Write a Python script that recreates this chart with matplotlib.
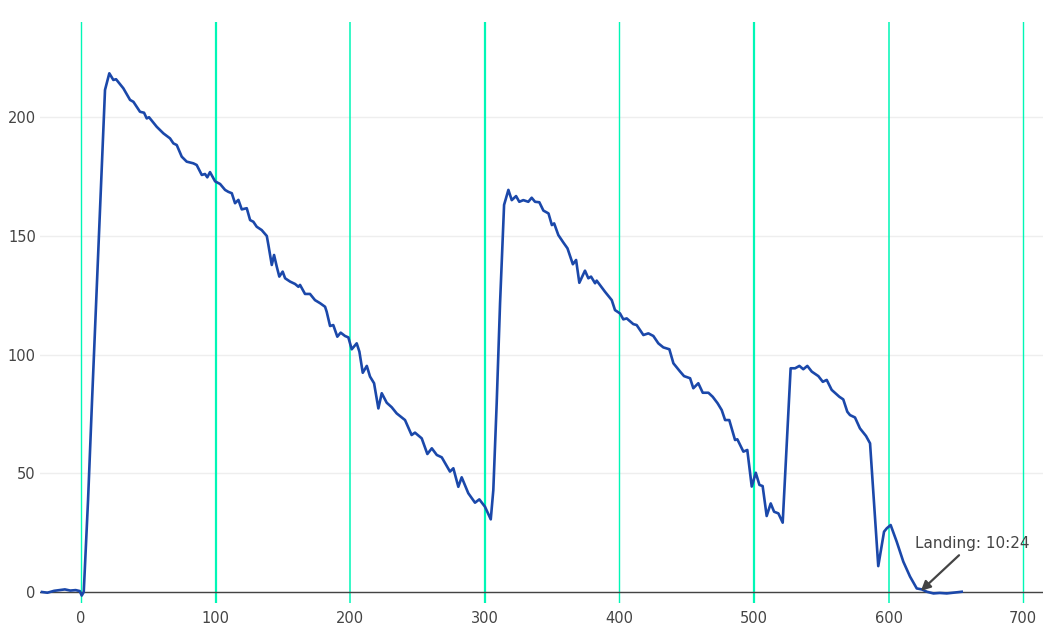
import numpy as np
import matplotlib
matplotlib.use("Agg")
import matplotlib.pyplot as plt

# flight time (s) and altitude readings
time = [-29, -25, -20, -15, -12, -8, -4, -1, 0.5, 2, 5.2, 8.2, 17.8, 21, 24, 26,
        31.4, 36.4, 38.9, 43.8, 46.8, 48.8, 50.5, 56.2, 61.2, 66.1, 68.6, 71.1,
        74.8, 78.5, 83.4, 85.9, 89.7, 92.1, 93.8, 95.8, 99.6, 103.3, 107, 109.4,
        112, 114.4, 116.9, 119.4, 123.1, 125.6, 128, 130.5, 134.2, 138, 139.2,
        141.7, 143.4, 145.4, 147.3, 149.8, 151.6, 155.3, 159, 161.5, 162.7,
        166.4, 170.1, 173.8, 177.6, 181.3, 182.5, 185, 187.4, 190.4, 192.9,
        196.1, 198.6, 201.1, 204.8, 206.8, 209.3, 212.3, 214.7, 217.7, 220.9,
        223.4, 227.1, 230.8, 234.5, 240.7, 245.6, 248.1, 253.1, 257.3, 260.6,
        264.3, 268, 274.1, 276.6, 280.3, 282.8, 287.7, 292.7, 295.9, 300.1,
        304.4, 306.3, 308.8, 311.3, 314.3, 317.5, 320, 323.2, 325.6, 328.6,
        332.3, 334.8, 337.3, 340.5, 343.5, 347.3, 349.8, 351.5, 354.6, 358.4,
        361.4, 365.4, 367.8, 370.2, 374.4, 376.9, 378.9, 381.9, 383.1, 389.3,
        394.3, 396.7, 400.4, 402.9, 405.4, 410.3, 412.8, 417.8, 421.5, 425.2,
        428.9, 432.6, 437.1, 440.1, 445.1, 448, 452.5, 454.9, 458.6, 461.9,
        466.1, 469.3, 472.9, 476, 478.5, 481.6, 485.9, 487.6, 492.1, 495,
        498.3, 501.3, 504, 506.4, 509.4, 512.4, 514.9, 518.1, 521.3, 524.3,
        527.2, 530.5, 533.7, 536.6, 539.6, 542.9, 547.8, 551.1, 554, 557.7,
        563.4, 566.3, 569.3, 571.3, 575, 578.7, 583.2, 586.2, 592.3, 596.6,
        598.6, 601.5, 606, 610.9, 615.9, 620.9, 624.6, 628.4, 633.3, 638,
        643.2, 648, 654.3]
altitude = [0, -0.3, 0.5, 0.9, 1.1, 0.6, 0.8, 0.4, -1.5, 0, 38.7, 81, 211.4,
            218.4, 215.6, 215.9, 212.1, 207.2, 206.4, 202.2, 201.8, 199.4,
            199.9, 195.9, 193.1, 191, 188.9, 188.2, 183.3, 181.2, 180.5, 179.8,
            175.6, 176, 174.6, 176.8, 172.9, 171.8, 169.3, 168.5, 167.9, 163.7,
            165.1, 161.1, 161.6, 156.6, 155.9, 153.8, 152.4, 149.9, 146.1,
            137.7, 141.9, 137, 132.8, 134.9, 132.1, 130.7, 129.7, 128.5, 129.3,
            125.5, 125.5, 122.9, 121.6, 120.1, 118, 112, 112.4, 107.5, 109.2,
            107.8, 107.2, 102.2, 104.7, 101.2, 92.3, 95.2, 90.7, 87.9, 77.3,
            83.7, 79.7, 77.8, 75.2, 72.4, 66.1, 67.1, 64.7, 58.1, 60.5, 57.7,
            56.7, 50.7, 52.1, 44.3, 48.3, 41.6, 37.6, 39, 35.9, 30.6, 42.9,
            79.4, 121.5, 163, 169.3, 165, 166.7, 164.3, 165, 164.3, 166, 164.3,
            164.1, 160.6, 159.4, 154.5, 155.2, 150.3, 147.1, 144.7, 138, 139.8,
            130.2, 135.3, 132.1, 132.8, 130, 131.1, 126.4, 122.9, 118.7, 117.3,
            114.8, 115.2, 112.8, 112.4, 108.2, 108.9, 107.8, 104.7, 103, 102.2,
            96.3, 92.8, 90.9, 90, 85.8, 87.9, 83.9, 83.9, 82.2, 79.5, 76.6,
            72.4, 72.4, 64, 64.3, 59.1, 59.8, 44.4, 50.2, 45.1, 44.6, 32, 37.3,
            33.8, 33.1, 29.2, 62.6, 94.2, 94.2, 95.2, 93.8, 95.2, 92.8, 90.9,
            88.5, 89.3, 85.1, 82.2, 81.1, 75.9, 74.5, 73.5, 68.9, 65.7, 62.6,
            10.9, 25.4, 26.8, 28.2, 21.2, 12.8, 6.5, 1.5, 1.1, 0.1, -0.6, -0.4,
            -0.6, -0.3, 0.1]

marks = [0, 100, 200, 300, 400, 500, 600, 700]
mark_widths = [1.0, 1.6, 1.1, 1.6, 1.0, 1.6, 1.1, 1.0]
y_ticks = [0, 50, 100, 150, 200]

fig = plt.figure(figsize=(10.43, 6.37), dpi=100)
ax = fig.add_axes([40 / 1043, 1 - 603 / 637, 1003 / 1043, 581 / 637])

for xm, w in zip(marks, mark_widths):
    ax.axvline(xm, color='#00f7b6', lw=w, zorder=1.5)

ax.plot(time, altitude, color='#1b48aa', lw=1.9, zorder=3)
ax.axhline(0, color='#444444', lw=1, zorder=2)

ax.annotate('Landing: 10:24', xy=(624, 0.5), xytext=(662, 20.6),
            ha='center', va='center', fontsize=11, color='#444444',
            arrowprops=dict(arrowstyle='-|>', color='#444444', lw=1.6,
                            mutation_scale=14, shrinkB=0), zorder=4)

ax.set_xlim(-30.5, 714.7)
ax.set_ylim(-4.63, 240)
ax.set_xticks(marks)
ax.set_yticks(y_ticks)
ax.grid(axis='y', color='#eeeeee', lw=1, zorder=0)
ax.set_axisbelow(True)
for s in ax.spines.values():
    s.set_visible(False)
ax.tick_params(length=0, labelsize=10.5, labelcolor='#444444')
ax.tick_params(axis='x', pad=6)
ax.tick_params(axis='y', pad=3)

fig.savefig('out.png', dpi=100)
